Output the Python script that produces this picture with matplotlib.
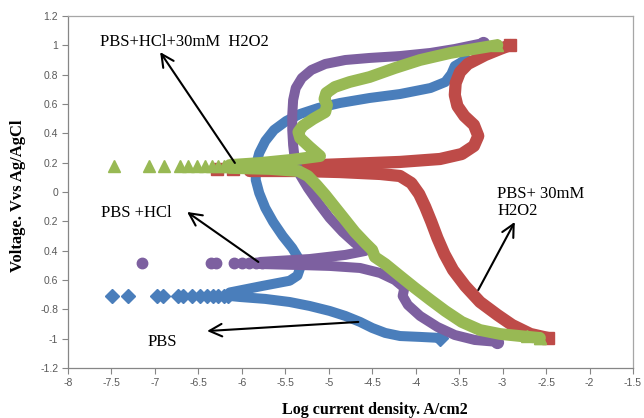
import matplotlib
matplotlib.use("Agg")
import matplotlib.pyplot as plt

# ---------------- data (log current density, voltage) ----------------
# PBS (blue)
pbs_cat_x = [-3.72, -3.95, -4.18, -4.35, -4.50, -4.64, -4.81, -4.99, -5.22, -5.45, -5.73, -6.02, -6.14]
pbs_cat_y = [-0.995, -0.988, -0.982, -0.961, -0.927, -0.886, -0.845, -0.811, -0.777, -0.750, -0.729, -0.716, -0.709]
pbs_an_x = [-6.14, -5.76, -5.45, -5.36, -5.33, -5.35, -5.42, -5.53, -5.64, -5.73, -5.80, -5.84,
            -5.84, -5.80, -5.73, -5.63, -5.49, -5.33, -5.12, -4.87, -4.53, -4.18, -3.83,
            -3.66, -3.59, -3.55, -3.43]
pbs_an_y = [-0.685, -0.64, -0.605, -0.57, -0.518, -0.450, -0.382, -0.300, -0.204, -0.109, -0.007, 0.082,
            0.177, 0.266, 0.348, 0.423, 0.484, 0.532, 0.573, 0.607, 0.641, 0.668, 0.709,
            0.750, 0.804, 0.859, 0.900]
pbs_tail_x = [-7.49, -7.31, -6.98, -6.91, -6.73, -6.68, -6.57, -6.48, -6.40,
              -6.33, -6.27, -6.21, -6.16]
pbs_tail_y = [-0.71] * len(pbs_tail_x)

# PBS + 30mM H2O2 (red)
h2o2_cat_x = [-2.48, -2.68, -2.89, -3.06, -3.26, -3.43, -3.57, -3.67, -3.75, -3.82, -3.89,
              -3.96, -4.05, -4.18, -4.41, -4.87, -5.33, -5.91]
h2o2_cat_y = [-0.995, -0.968, -0.907, -0.838, -0.750, -0.641, -0.532, -0.423, -0.314, -0.204, -0.102,
              -0.014, 0.061, 0.109, 0.123, 0.136, 0.143, 0.143]
h2o2_an_x = [-5.91, -5.10, -4.18, -3.72, -3.47, -3.33, -3.28, -3.33, -3.44, -3.52, -3.55,
             -3.54, -3.49, -3.40, -3.20, -3.03, -2.91]
h2o2_an_y = [0.164, 0.184, 0.205, 0.225, 0.259, 0.314, 0.382, 0.457, 0.518, 0.586, 0.661,
             0.743, 0.818, 0.873, 0.934, 0.975, 1.002]
h2o2_tail_x = [-6.29, -6.10]
h2o2_tail_y = [0.16, 0.16]

# PBS + HCl (purple)
hcl_cat_x = [-3.06, -3.32, -3.55, -3.75, -3.95, -4.09, -4.15, -4.13, -4.24, -4.41, -4.64,
             -4.99, -5.33, -5.79]
hcl_cat_y = [-1.022, -1.009, -0.975, -0.920, -0.845, -0.770, -0.709, -0.654, -0.600, -0.552, -0.518,
             -0.504, -0.498, -0.491]
hcl_an_x = [-5.79, -5.22, -4.81, -4.58, -4.70, -4.84, -4.99, -5.12, -5.24, -5.33, -5.39,
            -5.41, -5.42, -5.42, -5.41, -5.38, -5.31, -5.20, -5.04, -4.81, -4.53, -4.18,
            -3.83, -3.55, -3.22]
hcl_an_y = [-0.477, -0.457, -0.429, -0.402, -0.348, -0.273, -0.177, -0.075, 0.027, 0.116, 0.218,
            0.320, 0.423, 0.525, 0.627, 0.709, 0.777, 0.832, 0.873, 0.900, 0.914, 0.927,
            0.948, 0.975, 1.016]
hcl_tail_x = [-7.15, -6.35, -6.30, -6.09, -6.00, -5.92, -5.84, -5.77]
hcl_tail_y = [-0.485] * len(hcl_tail_x)

# PBS + HCl + 30mM H2O2 (green)
mix_cat_x = [-2.57, -2.80, -3.03, -3.26, -3.47, -3.66, -3.83, -4.01, -4.18, -4.35, -4.47,
             -4.50, -4.58, -4.70, -4.81, -4.93, -5.04, -5.14, -5.24, -5.35, -5.68, -6.14]
mix_cat_y = [-0.995, -0.982, -0.968, -0.941, -0.886, -0.811, -0.736, -0.654, -0.573, -0.491, -0.443,
             -0.395, -0.348, -0.273, -0.191, -0.102, -0.020, 0.048, 0.109, 0.143, 0.157, 0.164]
mix_an_x = [-6.14, -5.79, -5.45, -5.10, -5.22, -5.33, -5.35, -5.30, -5.18, -5.04, -5.02,
            -5.05, -5.03, -4.93, -4.76, -4.53, -4.24, -3.95, -3.60, -3.26, -3.06]
mix_an_y = [0.184, 0.198, 0.218, 0.245, 0.307, 0.368, 0.409, 0.450, 0.498, 0.545, 0.593,
            0.634, 0.675, 0.716, 0.750, 0.784, 0.845, 0.900, 0.948, 0.982, 1.002]
mix_tail_x = [-7.47, -7.07, -6.90, -6.71, -6.62, -6.52, -6.42, -6.34, -6.27,
              -6.21, -6.15]
mix_tail_y = [0.175] * len(mix_tail_x)
mix_end_x = [-2.72, -2.57]
mix_end_y = [-0.985, -0.995]

x_ticks = [-8, -7.5, -7, -6.5, -6, -5.5, -5, -4.5, -4, -3.5, -3, -2.5, -2, -1.5]
x_tick_labels = ["-8", "-7.5", "-7", "-6.5", "-6", "-5.5", "-5", "-4.5", "-4",
                 "-3.5", "-3", "-2.5", "-2", "-1.5"]
y_ticks = [1.2, 1.0, 0.8, 0.6, 0.4, 0.2, 0.0, -0.2, -0.4, -0.6, -0.8, -1.0, -1.2]
y_tick_labels = ["1.2", "1", "0.8", "0.6", "0.4", "0.2", "0", "0.2", "0.4", "0.6",
                 "-0.8", "-1", "-1.2"]

BLUE = "#4a7ebb"
RED = "#be4b48"
PURPLE = "#7d60a0"
GREEN = "#98b954"

fig = plt.figure(figsize=(6.44, 4.18), dpi=100)
ax = fig.add_axes([68 / 644, 1 - 368 / 418, (633 - 68) / 644, (368 - 16) / 418])

def draw(cx, cy, axx, ay, tx, ty, color, marker, lw, ms):
    ax.plot(cx, cy, color=color, lw=lw, solid_joinstyle="round", solid_capstyle="round")
    ax.plot(axx, ay, color=color, lw=lw, solid_joinstyle="round", solid_capstyle="round")
    ax.plot(tx, ty, ls="none", marker=marker, ms=ms, color=color, mec=color)
    ax.plot([cx[0]], [cy[0]], ls="none", marker=marker, ms=ms + 1, color=color, mec=color)
    ax.plot([axx[-1]], [ay[-1]], ls="none", marker=marker, ms=ms + 1, color=color, mec=color)

draw(pbs_cat_x, pbs_cat_y, pbs_an_x, pbs_an_y, pbs_tail_x, pbs_tail_y, BLUE, "D", 7.2, 7)
draw(h2o2_cat_x, h2o2_cat_y, h2o2_an_x, h2o2_an_y, h2o2_tail_x, h2o2_tail_y, RED, "s", 8.8, 8)
draw(hcl_cat_x, hcl_cat_y, hcl_an_x, hcl_an_y, hcl_tail_x, hcl_tail_y, PURPLE, "o", 7.2, 7.5)
draw(mix_cat_x, mix_cat_y, mix_an_x, mix_an_y, mix_tail_x, mix_tail_y, GREEN, "^", 8.5, 8)
ax.plot(mix_end_x, mix_end_y, ls="none", marker="^", ms=9, color=GREEN)

ax.set_xlim(-8, -1.5)
ax.set_ylim(-1.2, 1.2)
ax.set_xticks(x_ticks)
ax.set_xticklabels(x_tick_labels)
ax.set_yticks(y_ticks)
ax.set_yticklabels(y_tick_labels)
for lab in ax.get_xticklabels() + ax.get_yticklabels():
    lab.set_fontfamily("Liberation Sans")
    lab.set_fontsize(7.5)
    lab.set_color("#595959")
ax.tick_params(direction="out", length=4, width=0.8, color="#868686", pad=3)
for s in ["left", "bottom"]:
    ax.spines[s].set_color("#868686")
    ax.spines[s].set_linewidth(0.9)
for s in ["top", "right"]:
    ax.spines[s].set_color("#a6a6a6")
    ax.spines[s].set_linewidth(0.9)

serif = "Liberation Serif"
fig.text(18 / 644, 1 - 196 / 418, "Voltage. Vvs Ag/AgCl", rotation=90, ha="center", va="center",
         fontsize=12, fontweight="bold", family=serif)
fig.text(375 / 644, 1 - 410 / 418, "Log current density. A/cm2", ha="center", va="center",
         fontsize=11.5, fontweight="bold", family=serif)

ax.text(-6.665, 1.022, "PBS+HCl+30mM  H2O2", ha="center", va="center", fontsize=12, family=serif)
ax.text(-7.21, -0.143, "PBS +HCl", ha="center", va="center", fontsize=12, family=serif)
ax.text(-6.91, -1.02, "PBS", ha="center", va="center", fontsize=12, family=serif)
ax.text(-3.06, -0.07, "PBS+ 30mM\nH2O2", ha="left", va="center", fontsize=12, family=serif,
        linespacing=1.1)

arrow = dict(arrowstyle="->,head_length=0.9,head_width=0.45", color="black", lw=1.5,
             shrinkA=0, shrinkB=0)
ax.annotate("", xy=(-6.94, 0.954), xytext=(-6.08, 0.198), arrowprops=arrow)
ax.annotate("", xy=(-6.63, -0.136), xytext=(-5.81, -0.477), arrowprops=arrow)
ax.annotate("", xy=(-6.40, -0.948), xytext=(-4.66, -0.886), arrowprops=arrow)
ax.annotate("", xy=(-2.86, -0.204), xytext=(-3.28, -0.668), arrowprops=arrow)

fig.savefig("out.png", dpi=100)
